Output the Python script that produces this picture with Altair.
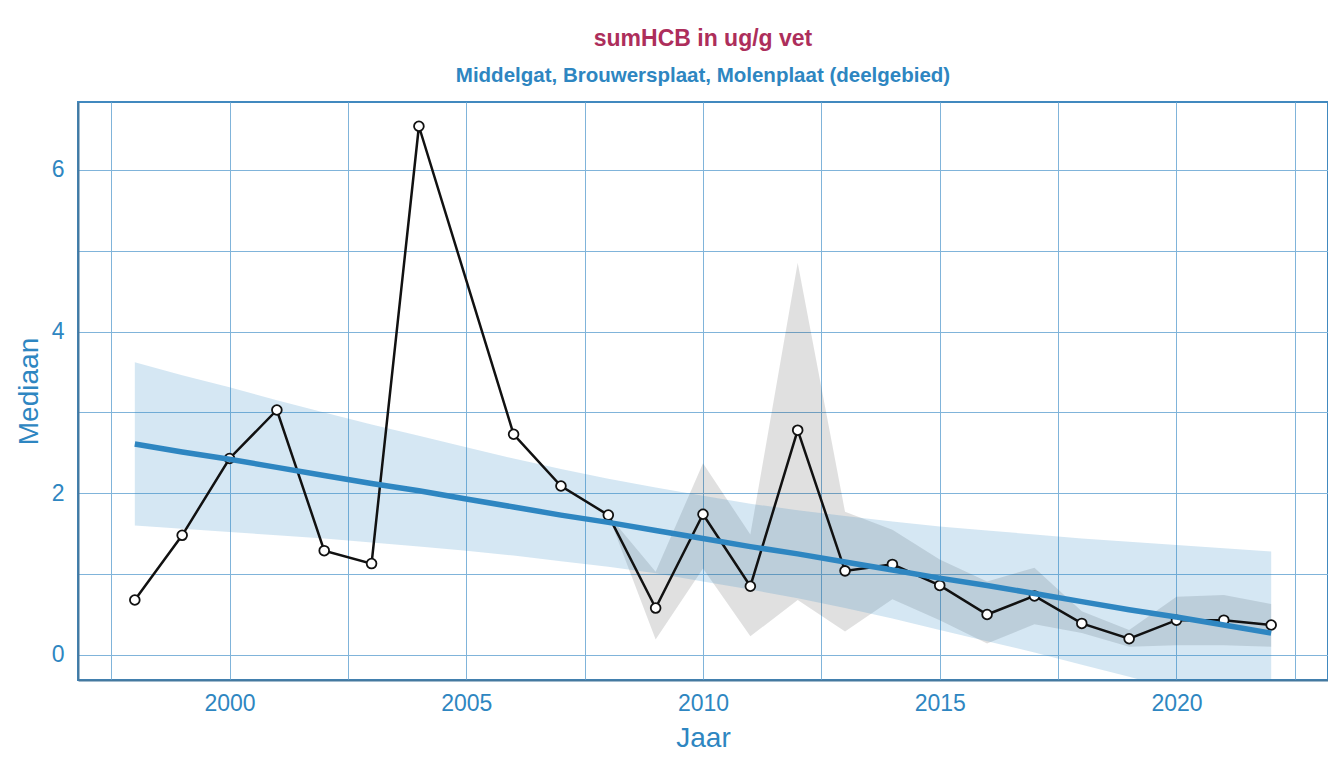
import altair as alt
import pandas as pd

# Median per year (2005 missing)
years = [1998, 1999, 2000, 2001, 2002, 2003, 2004, 2006, 2007, 2008, 2009, 2010,
         2011, 2012, 2013, 2014, 2015, 2016, 2017, 2018, 2019, 2020, 2021, 2022]
median = [0.68, 1.48, 2.43, 3.03, 1.29, 1.13, 6.54, 2.73, 2.09, 1.73, 0.58, 1.74,
          0.85, 2.78, 1.04, 1.12, 0.86, 0.50, 0.73, 0.39, 0.20, 0.43, 0.43, 0.37]

# Grey spread band (2008 onwards)
band_years = [2008, 2009, 2010, 2011, 2012, 2013, 2014, 2015, 2016, 2017, 2018,
              2019, 2020, 2021, 2022]
band_lo = [1.73, 0.19, 1.07, 0.23, 0.68, 0.29, 0.69, 0.43, 0.14, 0.38, 0.27,
           0.10, 0.12, 0.12, 0.10]
band_hi = [1.73, 1.03, 2.37, 1.49, 4.85, 1.77, 1.55, 1.18, 0.91, 1.08, 0.54,
           0.31, 0.72, 0.74, 0.63]

# Trend line with confidence band
trend_years = list(range(1998, 2023))
trend_fit = [2.61, 2.51, 2.42, 2.32, 2.22, 2.12, 2.03, 1.93, 1.83, 1.73, 1.64,
             1.54, 1.44, 1.34, 1.25, 1.15, 1.05, 0.95, 0.86, 0.76, 0.66, 0.56,
             0.47, 0.37, 0.27]
trend_hi = [3.62, 3.46, 3.31, 3.15, 3.00, 2.85, 2.71, 2.57, 2.43, 2.30, 2.18,
            2.07, 1.97, 1.87, 1.79, 1.72, 1.65, 1.59, 1.54, 1.49, 1.44, 1.40,
            1.36, 1.32, 1.28]
trend_lo = [1.60, 1.56, 1.52, 1.48, 1.44, 1.39, 1.34, 1.29, 1.23, 1.16, 1.09,
            1.01, 0.91, 0.81, 0.70, 0.58, 0.45, 0.31, 0.17, 0.03, -0.12, -0.27,
            -0.43, -0.58, -0.74]

x_ticks = [1997.5, 2000, 2002.5, 2005, 2007.5, 2010, 2012.5, 2015, 2017.5, 2020, 2022.5]
y_ticks = [0, 1, 2, 3, 4, 5, 6]

BLUE = "#2E86C1"
TXT = "#2E86C1"

df_med = pd.DataFrame({"Jaar": years, "Mediaan": median})
df_band = pd.DataFrame({"Jaar": band_years, "lo": band_lo, "hi": band_hi})
df_trend = pd.DataFrame({"Jaar": trend_years, "fit": trend_fit, "lo": trend_lo, "hi": trend_hi})

xs = alt.Scale(domain=[1996.8, 2023.2], nice=False, zero=False)
ys = alt.Scale(domain=[-0.31, 6.84], nice=False, zero=False)

x_axis = alt.Axis(values=x_ticks, labelExpr="datum.value % 5 == 0 ? format(datum.value, 'd') : ''",
                  title="Jaar")
y_axis = alt.Axis(values=y_ticks, labelExpr="datum.value % 2 == 0 ? format(datum.value, 'd') : ''",
                  title="Mediaan")

grey = alt.Chart(df_band).mark_area(color="#000000", opacity=0.12).encode(
    x=alt.X("Jaar:Q", scale=xs, axis=x_axis),
    y=alt.Y("lo:Q", scale=ys, axis=y_axis),
    y2="hi:Q",
)

ci = alt.Chart(df_trend).mark_area(color=BLUE, opacity=0.2, clip=True).encode(
    x=alt.X("Jaar:Q", scale=xs),
    y=alt.Y("lo:Q", scale=ys),
    y2="hi:Q",
)

line = alt.Chart(df_med).mark_line(color="#111111", strokeWidth=2.5).encode(
    x=alt.X("Jaar:Q", scale=xs),
    y=alt.Y("Mediaan:Q", scale=ys),
)

pts = alt.Chart(df_med).mark_point(shape="circle", filled=True, fill="white", stroke="#111111",
                                    strokeWidth=1.8, size=95, opacity=1).encode(
    x=alt.X("Jaar:Q", scale=xs),
    y=alt.Y("Mediaan:Q", scale=ys),
)

trend = alt.Chart(df_trend).mark_line(color=BLUE, strokeWidth=5.5, clip=True).encode(
    x=alt.X("Jaar:Q", scale=xs),
    y=alt.Y("fit:Q", scale=ys),
)

chart = alt.layer(grey, ci, line, pts, trend).properties(
    width=1250,
    height=578,
    padding={"left": 70, "top": 94, "right": 0, "bottom": 80},
    autosize=alt.AutoSizeParams(type="none"),
    title=alt.TitleParams(
        text="sumHCB in ug/g vet",
        subtitle="Middelgat, Brouwersplaat, Molenplaat (deelgebied)",
        anchor="middle",
        font="Liberation Sans",
        fontSize=23,
        fontWeight="bold",
        color="#AD2E5B",
        subtitleFont="Liberation Sans",
        subtitleFontSize=20.5,
        subtitleFontWeight="bold",
        subtitleColor=TXT,
        subtitlePadding=15,
        offset=16,
    ),
).configure_view(
    stroke="#4189BF",
    strokeWidth=2,
).configure_axis(
    labelFont="Liberation Sans",
    titleFont="Liberation Sans",
    labelFontSize=23,
    titleFontSize=28,
    labelColor=TXT,
    titleColor=TXT,
    titleFontWeight="normal",
    ticks=False,
    tickSize=0,
    domainColor="#44799F",
    domainWidth=2,
    grid=True,
    gridColor="#80B4DA",
    gridWidth=1,
    gridOpacity=1,
).configure_axisX(
    labelPadding=12,
    titlePadding=9,
).configure_axisY(
    labelPadding=14,
    titlePadding=8,
)

chart.save("out.html", embed_options={"renderer": "svg", "actions": False})
